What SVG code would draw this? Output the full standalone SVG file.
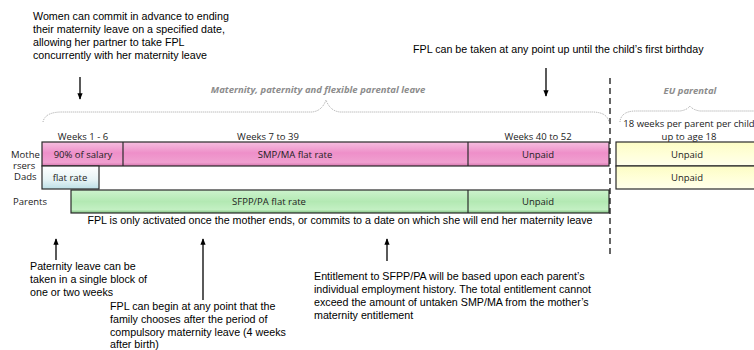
<svg xmlns="http://www.w3.org/2000/svg" width="754" height="350" viewBox="0 0 754 350">
<defs>
<linearGradient id="pink" x1="0" y1="0" x2="0" y2="1">
<stop offset="0" stop-color="#f6bfe0"/><stop offset="0.45" stop-color="#ee8fc9"/><stop offset="0.85" stop-color="#f0a0d0"/><stop offset="1" stop-color="#d576ae"/>
</linearGradient>
<linearGradient id="green" x1="0" y1="0" x2="0" y2="1">
<stop offset="0" stop-color="#cdf3cd"/><stop offset="0.5" stop-color="#b3e9b3"/><stop offset="0.85" stop-color="#c3f0c3"/><stop offset="1" stop-color="#7fbf7f"/>
</linearGradient>
<linearGradient id="blue" x1="0" y1="0" x2="0" y2="1">
<stop offset="0" stop-color="#ffffff"/><stop offset="0.6" stop-color="#e6f3f5"/><stop offset="1" stop-color="#bcdfe6"/>
</linearGradient>
<linearGradient id="yellow" x1="0" y1="0" x2="0" y2="1">
<stop offset="0" stop-color="#fcfcc4"/><stop offset="0.5" stop-color="#ffffd8"/><stop offset="1" stop-color="#ffffec"/>
</linearGradient>
<marker id="ah" viewBox="0 0 10 10" refX="9" refY="5" markerWidth="5" markerHeight="5" orient="auto">
<path d="M0,1 L10,5 L0,9 z" fill="#000"/>
</marker>
<style>
.note{font-family:"Liberation Sans",Arial,sans-serif;font-size:10.7px;fill:#000}
.lab{font-family:"Open Sans","Liberation Sans",sans-serif;font-size:9.5px;fill:#222}
.bar{stroke:#2a2a2a;stroke-width:1.2}
.cap{font-family:"Open Sans","Liberation Sans",sans-serif;font-size:9.5px;font-style:italic;font-weight:bold;fill:#8c8c8c}
.brace{fill:none;stroke:#999;stroke-width:0.9;stroke-dasharray:1,1}
.arr{stroke:#000;stroke-width:1.3;fill:none;marker-end:url(#ah)}
</style>
</defs>

<g id="notes">
<text class="note" x="33" y="20">Women can commit in advance to ending</text>
<text class="note" x="33" y="33">their maternity leave on a specified date,</text>
<text class="note" x="33" y="46">allowing her partner to take FPL</text>
<text class="note" x="33" y="59">concurrently with her maternity leave</text>
<text class="note" x="413" y="53">FPL can be taken at any point up until the child’s first birthday</text>
<text class="note" x="340" y="224" text-anchor="middle">FPL is only activated once the mother ends, or commits to a date on which she will end her maternity leave</text>
<text class="note" x="30" y="270">Paternity leave can be</text>
<text class="note" x="30" y="283">taken in a single block of</text>
<text class="note" x="30" y="296">one or two weeks</text>
<text class="note" x="110" y="310">FPL can begin at any point that the</text>
<text class="note" x="110" y="323">family chooses after the period of</text>
<text class="note" x="110" y="336">compulsory maternity leave (4 weeks</text>
<text class="note" x="110" y="348">after birth)</text>
<text class="note" x="314" y="280">Entitlement to SFPP/PA will be based upon each parent’s</text>
<text class="note" x="314" y="293">individual employment history. The total entitlement cannot</text>
<text class="note" x="314" y="306">exceed the amount of untaken SMP/MA from the mother’s</text>
<text class="note" x="314" y="319">maternity entitlement</text>
</g>

<g id="captions">
<text class="cap" x="318" y="93" text-anchor="middle">Maternity,  paternity and flexible parental leave</text>
<text class="cap" x="690" y="94" text-anchor="middle" font-weight="normal">EU parental</text>
<path class="brace" d="M43,122 Q45,112 62,112 L312,112 Q322,111 326,100 Q330,111 340,112 L592,112 Q607,112 609,122"/>
<path class="brace" d="M620,122 Q621,111 636,111 L680,111 Q687,110 690,106 Q693,110 700,111 L756,111"/>
<text class="lab" x="689" y="127" text-anchor="middle">18 weeks per parent per child</text>
<text class="lab" x="689" y="140" text-anchor="middle">up to age 18</text>
</g>

<g id="rowlabels">
<text class="lab" x="11" y="158">Mothe</text>
<text class="lab" x="13" y="169">rsers</text>
<text class="lab" x="14" y="180">Dads</text>
<text class="lab" x="13" y="205">Parents</text>
<text class="lab" x="83" y="140" text-anchor="middle">Weeks 1 - 6</text>
<text class="lab" x="268" y="140" text-anchor="middle">Weeks 7 to 39</text>
<text class="lab" x="538" y="140" text-anchor="middle">Weeks 40 to 52</text>
</g>

<g id="mothers">
<rect class="bar" x="42" y="142" width="567" height="24" fill="url(#pink)"/>
<line class="bar" x1="123" y1="142" x2="123" y2="166"/>
<line class="bar" x1="468" y1="142" x2="468" y2="166"/>
<text class="lab" x="83" y="158" text-anchor="middle">90% of salary</text>
<text class="lab" x="295" y="158" text-anchor="middle">SMP/MA flat rate</text>
<text class="lab" x="538" y="158" text-anchor="middle">Unpaid</text>
</g>

<g id="dads">
<rect class="bar" x="42" y="166" width="57" height="23" fill="url(#blue)"/>
<text class="lab" x="70" y="181" text-anchor="middle" font-size="7px">flat rate</text>
</g>

<g id="parents">
<rect class="bar" x="71" y="190" width="538" height="23" fill="url(#green)"/>
<line class="bar" x1="468" y1="190" x2="468" y2="213"/>
<text class="lab" x="269" y="205" text-anchor="middle">SFPP/PA flat rate</text>
<text class="lab" x="538" y="205" text-anchor="middle">Unpaid</text>
</g>

<g id="eu">
<rect class="bar" x="616" y="142" width="145" height="24" fill="url(#yellow)"/>
<rect class="bar" x="616" y="166" width="145" height="23" fill="url(#yellow)"/>
<text class="lab" x="687" y="158" text-anchor="middle">Unpaid</text>
<text class="lab" x="687" y="181" text-anchor="middle">Unpaid</text>
</g>

<g id="connectors">
<line x1="610" y1="78" x2="610" y2="256" stroke="#000" stroke-width="1.2" stroke-dasharray="6,4"/>
<line class="arr" x1="80" y1="77" x2="80" y2="99"/>
<line class="arr" x1="546" y1="68" x2="546" y2="96"/>
<line class="arr" x1="56" y1="260" x2="56" y2="239"/>
<line class="arr" x1="203" y1="300" x2="203" y2="239"/>
<line class="arr" x1="387" y1="261" x2="387" y2="239"/>
</g>
</svg>
